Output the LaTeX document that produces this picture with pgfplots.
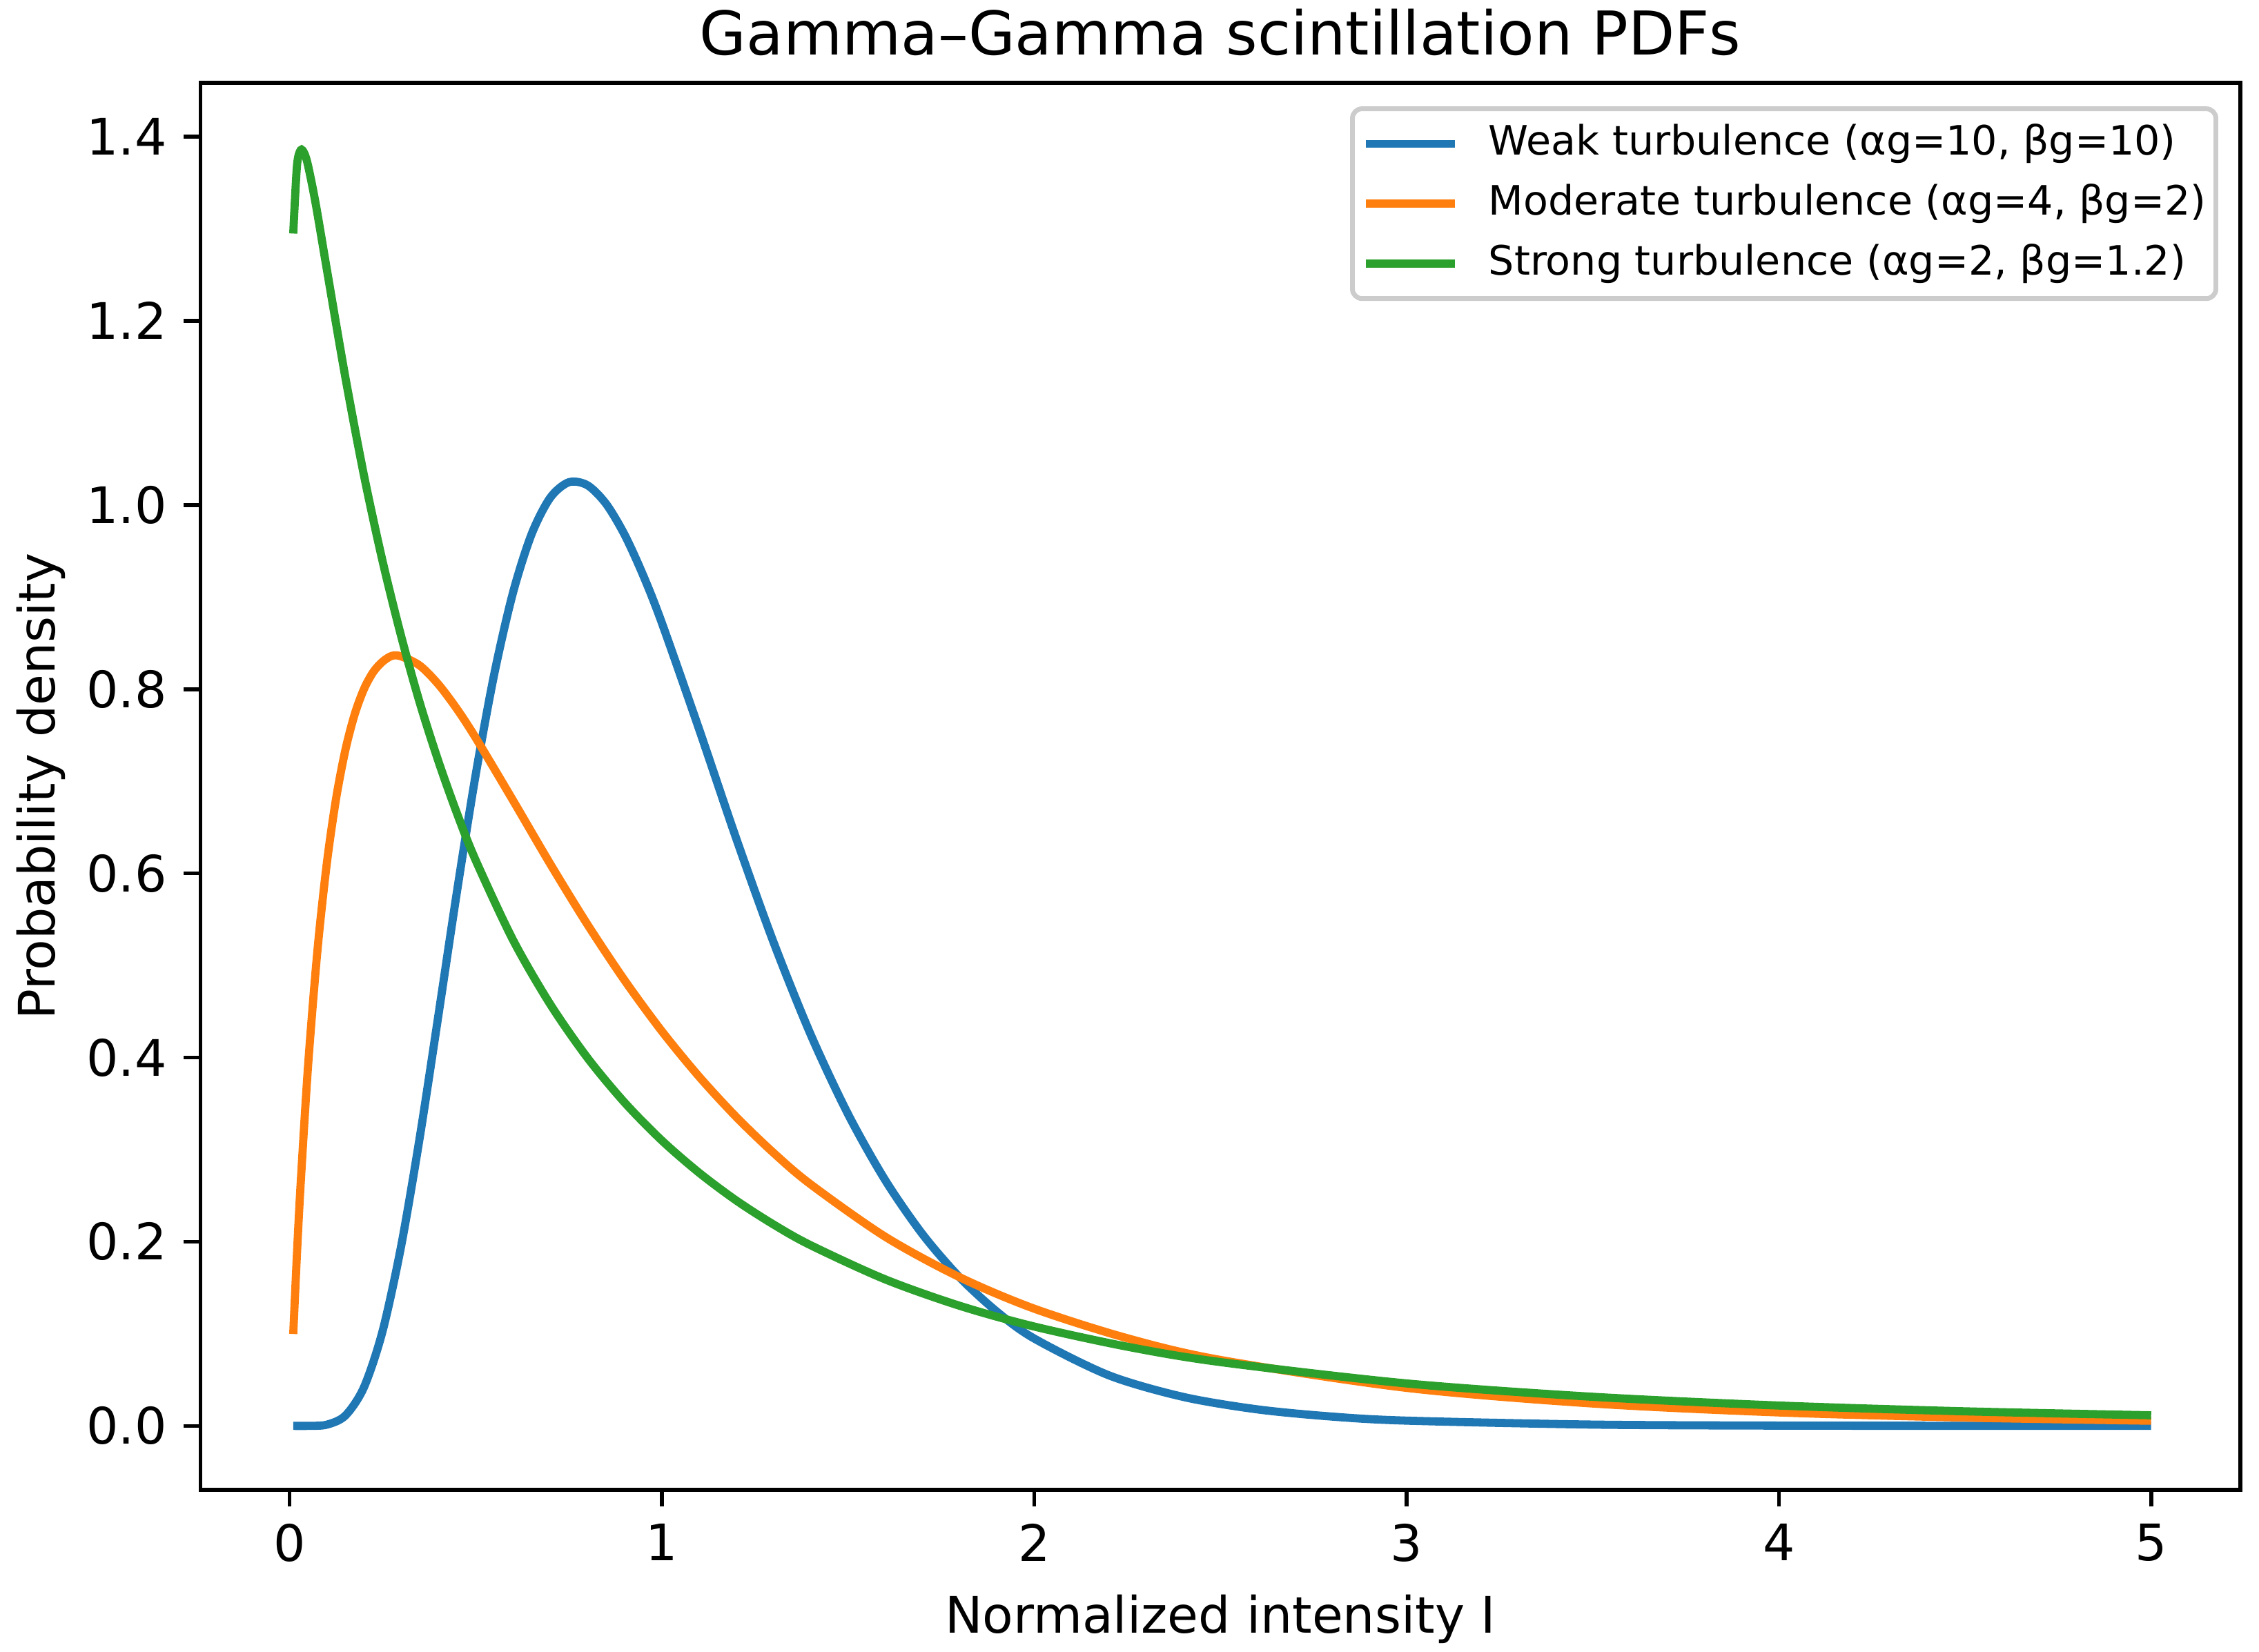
\documentclass[border=0pt]{standalone}
\usepackage{fontspec}
\setmainfont{DejaVu Sans}
\usepackage{pgfplots}
\pgfplotsset{compat=1.18}
\definecolor{tabblue}{HTML}{1F77B4}
\definecolor{taborange}{HTML}{FF7F0E}
\definecolor{tabgreen}{HTML}{2CA02C}
\definecolor{legframe}{HTML}{CCCCCC}
\begin{document}
\begin{tikzpicture}
\begin{axis}[
  scale only axis, width=425.6pt, height=293.6pt,
  xmin=-0.2395, xmax=5.2395, ymin=-0.0695, ymax=1.4584,
  axis line style={line width=0.8pt},
  tick style={line width=0.8pt, black}, major tick length=3.5pt, tick align=outside,
  xtick pos=bottom, ytick pos=left,
  xtick={0,1,2,3,4,5}, ytick={0,0.2,0.4,0.6,0.8,1.0,1.2,1.4},
  /pgf/number format/assume math mode=true,
  yticklabel style={/pgf/number format/.cd, fixed, fixed zerofill, precision=1, /tikz/.cd},
  ticklabel style={font=\fontsize{10.5}{12.6}\selectfont},
  xlabel={Normalized intensity I}, ylabel={Probability density},
  every axis x label/.style={at={(axis description cs:0.5,-0.1015)}, anchor=base, inner sep=0pt, font=\fontsize{10.5}{12.6}\selectfont},
  every axis y label/.style={at={(axis description cs:-0.0712,0.5)}, rotate=90, anchor=base, inner sep=0pt, font=\fontsize{10.5}{12.6}\selectfont},
  title={Gamma–Gamma scintillation PDFs},
  every axis title/.style={at={(axis description cs:0.5,1.0201)}, anchor=base, inner sep=0pt, font=\fontsize{12.6}{15}\selectfont},
  legend style={at={(1,1)}, anchor=north east, xshift=-4.6pt, yshift=-4.9pt,
    draw=legframe, line width=1pt, rounded corners=2pt, fill=white,
    inner xsep=2pt, inner ysep=1.1pt, row sep=0pt, column sep=6.2pt,
    font=\fontsize{8.45}{10}\selectfont,
    nodes={inner sep=0pt, text height=8.6pt, text depth=3.87pt, anchor=west}},
  legend cell align=left,
  legend image code/.code={\draw[#1] (0pt,0pt) -- (18.5pt,0pt);},
  every axis plot/.append style={line width=1.7pt, smooth},
]
\coordinate (sw) at (rel axis cs:0,0);
\coordinate (ne) at (rel axis cs:1,1);
\addplot[tabblue] coordinates {
(0.01,0) (0.05,0.00002) (0.1,0.0013) (0.15,0.0112) (0.2,0.0420) (0.25,0.1030)
(0.3,0.1957) (0.35,0.3138) (0.4,0.4462) (0.45,0.5809) (0.5,0.7071) (0.55,0.8167)
(0.6,0.9045) (0.65,0.9682) (0.7,1.0078) (0.75,1.0247) (0.8,1.0215) (0.85,1.0014)
(0.9,0.9677) (0.95,0.9235) (1.0,0.8720) (1.1,0.7566) (1.2,0.6376) (1.3,0.5252)
(1.4,0.4247) (1.5,0.3386) (1.6,0.2668) (1.7,0.2082) (1.8,0.1612) (1.9,0.1240)
(2.0,0.0949) (2.2,0.0550) (2.4,0.0315) (2.6,0.0179) (2.8,0.0101) (3.0,0.0057)
(3.5,0.0014) (4.0,0.0003) (4.5,0.0001) (5.0,0)
};
\addlegendentry{Weak turbulence (αg=10, βg=10)}
\addplot[taborange] coordinates {
(0.01,0.0998) (0.02,0.1869) (0.03,0.2636) (0.05,0.3921) (0.075,0.5163) (0.1,0.6102)
(0.125,0.6810) (0.15,0.7339) (0.175,0.7727) (0.2,0.8002) (0.225,0.8187) (0.25,0.8299)
(0.275,0.8362) (0.3,0.8356) (0.35,0.8256) (0.4,0.8052) (0.45,0.7783) (0.5,0.7472)
(0.6,0.6794) (0.7,0.6104) (0.8,0.5446) (0.9,0.4838) (1.0,0.4286) (1.1,0.3793)
(1.2,0.3354) (1.3,0.2965) (1.4,0.2622) (1.6,0.2054) (1.8,0.1614) (2.0,0.1273)
(2.25,0.0952) (2.5,0.0716) (3.0,0.0413) (3.5,0.0243) (4.0,0.0146) (4.5,0.0090)
(5.0,0.0056)
};
\addlegendentry{Moderate turbulence (αg=4, βg=2)}
\addplot[tabgreen] coordinates {
(0.01,1.2948) (0.02,1.3683) (0.03,1.3854) (0.04,1.3818) (0.05,1.3682) (0.07,1.3278)
(0.1,1.2564) (0.15,1.1386) (0.2,1.0321) (0.25,0.9389) (0.3,0.8573) (0.35,0.7850)
(0.4,0.7216) (0.45,0.6649) (0.5,0.6142) (0.6,0.5279) (0.7,0.4580) (0.8,0.3998)
(0.9,0.3511) (1.0,0.3099) (1.1,0.2749) (1.2,0.2447) (1.3,0.2187) (1.4,0.1961)
(1.6,0.1591) (1.8,0.1304) (2.0,0.1079) (2.25,0.0860) (2.5,0.0693) (3.0,0.0461)
(3.5,0.0316) (4.0,0.0221) (4.5,0.0158) (5.0,0.0115)
};
\addlegendentry{Strong turbulence (αg=2, βg=1.2)}
\end{axis}
\pgfresetboundingbox
\path[use as bounding box] ([xshift=-41.8pt,yshift=-33.7pt]sw) rectangle ([xshift=3.9pt,yshift=17.3pt]ne);
\end{tikzpicture}
\end{document}
